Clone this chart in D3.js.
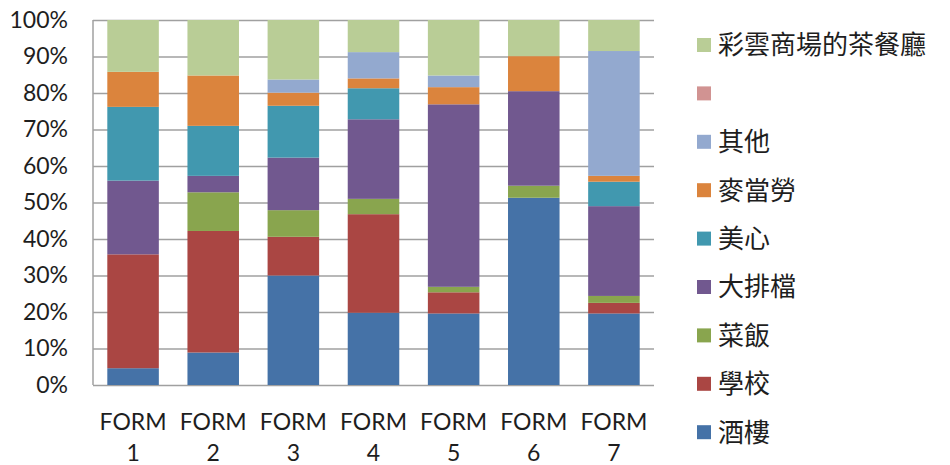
<!DOCTYPE html>
<html>
<head>
<meta charset="utf-8">
<script src="https://cdn.jsdelivr.net/npm/d3@7"></script>
<style>
  html, body { margin: 0; padding: 0; background: #fff; }
  svg { display: block; }
  text { font-family: Lato, "Noto Sans CJK TC", sans-serif; fill: #1e1e1e; }
</style>
</head>
<body>
<svg id="chart" width="950" height="465"></svg>
<script>
// ---- data ----
const categories = ["FORM 1", "FORM 2", "FORM 3", "FORM 4", "FORM 5", "FORM 6", "FORM 7"];
// series listed bottom-to-top in the stack
const seriesNames = ["酒樓", "學校", "菜飯", "大排檔", "美心", "麥當勞", "其他", "", "彩雲商場的茶餐廳"];
const s酒樓   = [4.6, 8.9, 30.0, 19.8, 19.6, 51.3, 19.6];
const s學校   = [31.2, 33.3, 10.6, 27.0, 5.8, 0, 2.9];
const s菜飯   = [0, 10.6, 7.3, 4.2, 1.5, 3.3, 1.9];
const s大排檔 = [20.2, 4.5, 14.4, 21.8, 50.0, 25.9, 24.6];
const s美心   = [20.2, 13.7, 14.2, 8.5, 0, 0, 6.7];
const s麥當勞 = [9.6, 13.8, 3.6, 2.7, 4.7, 9.6, 1.6];
const s其他   = [0, 0, 3.6, 7.2, 3.2, 0, 34.2];
const sBlank  = [0, 0, 0, 0, 0, 0, 0];
const s彩雲   = [14.2, 15.2, 16.3, 8.8, 15.2, 9.9, 8.5];
const seriesValues = [s酒樓, s學校, s菜飯, s大排檔, s美心, s麥當勞, s其他, sBlank, s彩雲];
const colors = ["#4572A7", "#AA4643", "#89A54E", "#71588F", "#4198AF", "#DB843D", "#93A9CF", "#D19392", "#B9CD96"];
const yTicks = [0, 10, 20, 30, 40, 50, 60, 70, 80, 90, 100];
const yTickLabels = ["0%", "10%", "20%", "30%", "40%", "50%", "60%", "70%", "80%", "90%", "100%"];

// ---- layout ----
const margin = { left: 93, top: 20 };
const W = 561, H = 365;
const svg = d3.select("#chart");
const g = svg.append("g").attr("transform", `translate(${margin.left},${margin.top})`);

const rows = categories.map((c, i) => {
  const r = { cat: c };
  seriesNames.forEach((s, k) => { r["k" + k] = seriesValues[k][i]; });
  return r;
});
const keys = seriesNames.map((s, k) => "k" + k);
const stacked = d3.stack().keys(keys).offset(d3.stackOffsetExpand)(rows);

const x = d3.scaleBand().domain(categories).range([0, W]).paddingInner(0.357).paddingOuter(0.1785);
const y = d3.scaleLinear().domain([0, 1]).range([H, 0]);

// gridlines + y labels
const yAxis = d3.axisLeft(y)
  .tickValues(yTicks.map(v => v / 100))
  .tickFormat((d, i) => yTickLabels[i])
  .tickSize(-W)
  .tickPadding(25);
const ya = g.append("g").call(yAxis);
ya.select(".domain").remove();
ya.selectAll(".tick line").attr("stroke", "#a0a0a0").attr("stroke-width", 1.5);
ya.selectAll(".tick text").attr("font-size", 23).attr("font-family", "Lato, sans-serif").attr("fill", "#1e1e1e");

// left axis line
g.append("line").attr("x1", 0).attr("x2", 0).attr("y1", 0).attr("y2", H)
  .attr("stroke", "#a0a0a0").attr("stroke-width", 1.5);

// bars
g.selectAll("g.series").data(stacked).join("g").attr("class", "series")
  .attr("fill", (d, k) => colors[k])
  .selectAll("rect").data(d => d).join("rect")
  .attr("x", d => x(d.data.cat))
  .attr("width", x.bandwidth())
  .attr("y", d => y(d[1]))
  .attr("height", d => Math.max(0, y(d[0]) - y(d[1])));

// x labels
const xl = g.append("g");
categories.forEach(c => {
  const parts = c.split(" ");
  const cx = x(c) + x.bandwidth() / 2;
  xl.append("text").attr("x", cx).attr("y", H + 45).attr("text-anchor", "middle")
    .attr("font-size", 23).text(parts[0]);
  xl.append("text").attr("x", cx).attr("y", H + 76).attr("text-anchor", "middle")
    .attr("font-size", 23).text(parts[1]);
});

// legend (top-to-bottom = reverse of stack)
const legend = svg.append("g");
const order = d3.range(seriesNames.length).reverse();
order.forEach((k, i) => {
  const cy = 45 + i * 48.4;
  legend.append("rect").attr("x", 697).attr("y", cy - 7).attr("width", 14).attr("height", 14).attr("fill", colors[k]);
  legend.append("text").attr("x", 718).attr("y", cy).attr("dy", "0.36em")
    .attr("font-size", 26).attr("font-family", "'Noto Sans CJK TC', sans-serif").text(seriesNames[k]);
});
</script>
</body>
</html>
